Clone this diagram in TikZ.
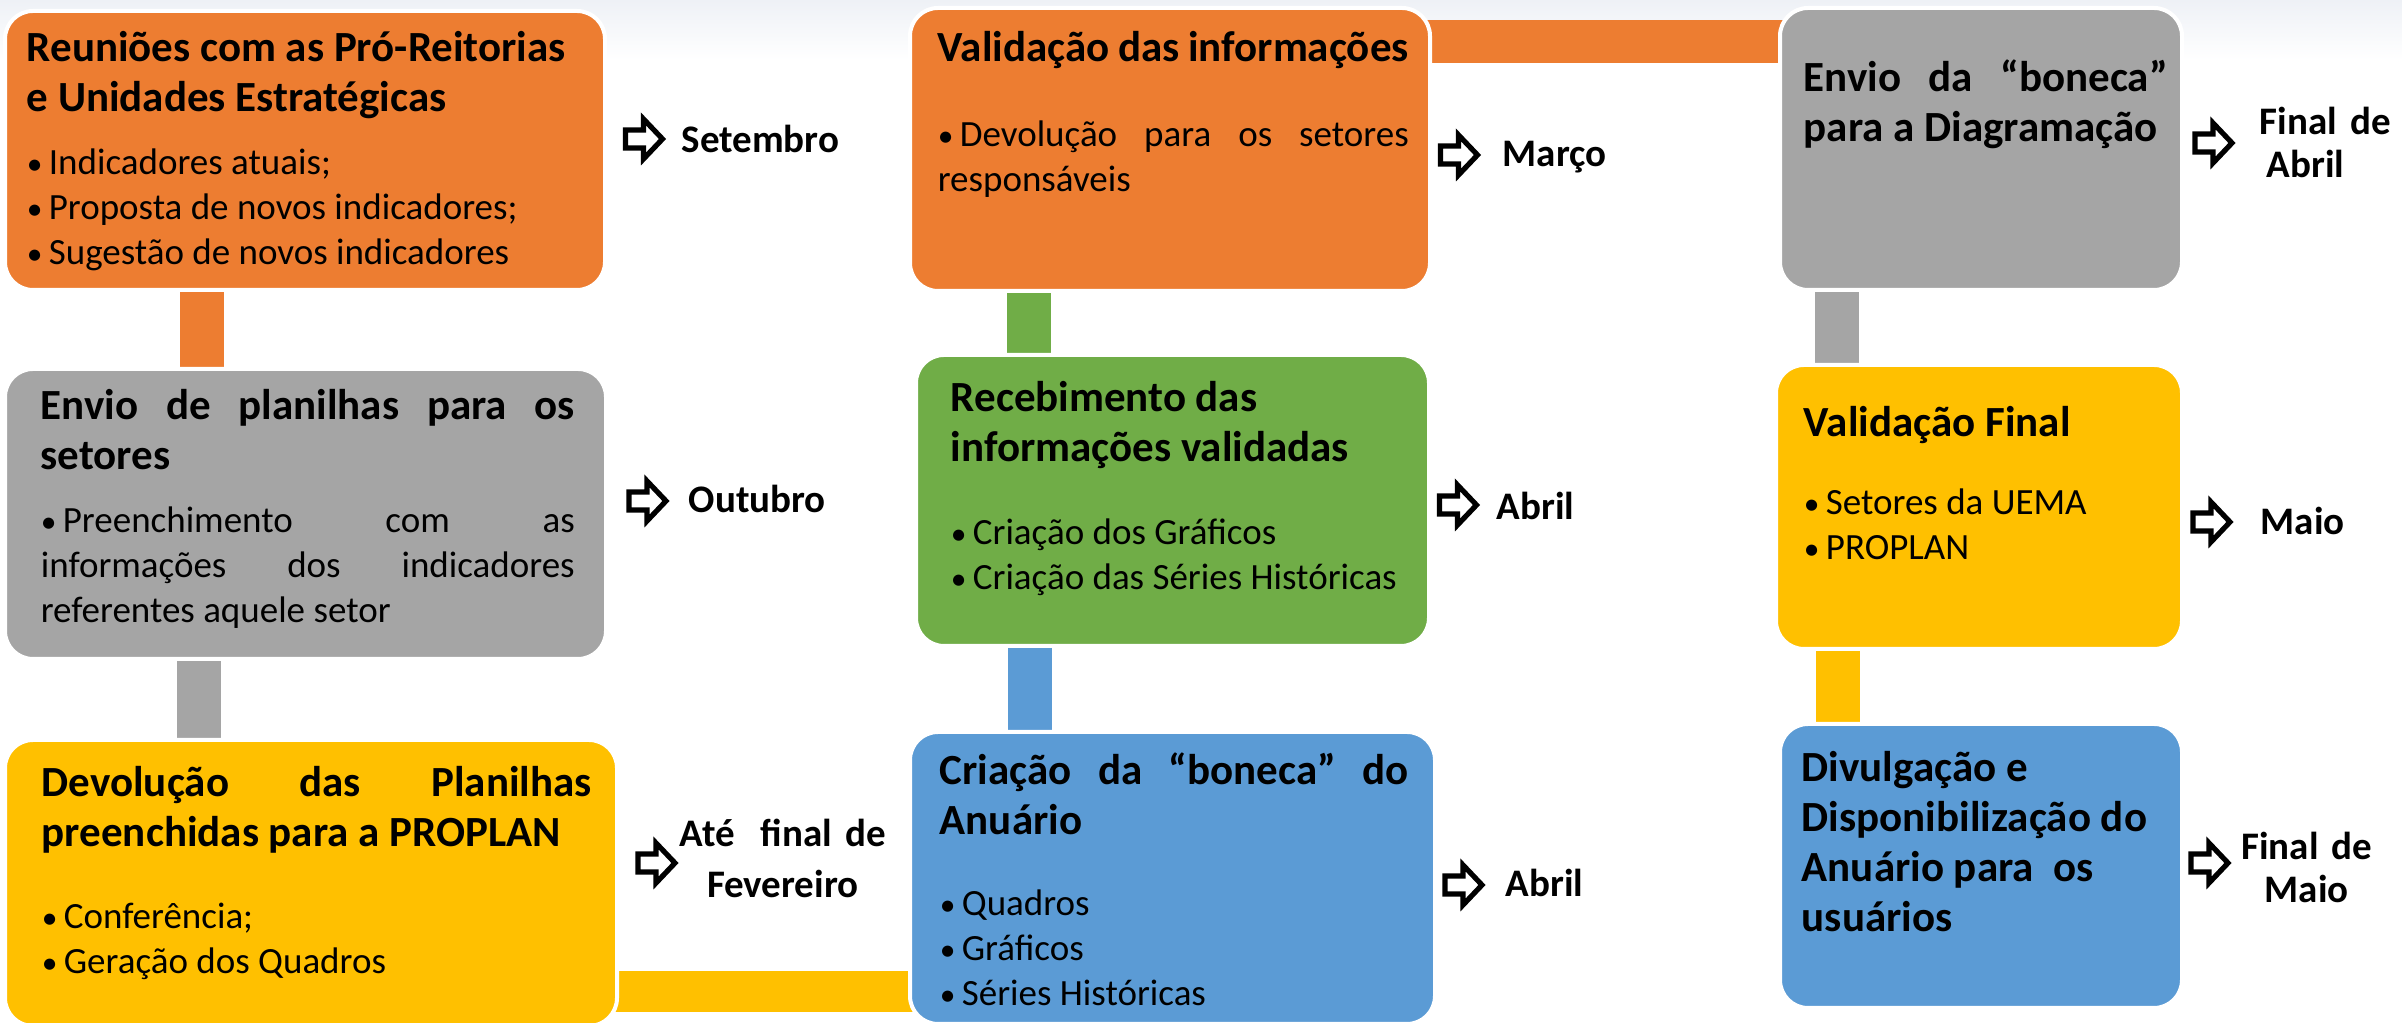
\documentclass[tikz,border=0pt]{standalone}
\usepackage{fontspec}
\setmainfont{Carlito}
\usepackage{xcolor}
\usepackage{tikz}
\usetikzlibrary{backgrounds,calc}
\definecolor{Laranja}{HTML}{ED7D31}
\definecolor{Cinza}{HTML}{A5A5A5}
\definecolor{Ouro}{HTML}{FFC000}
\definecolor{Verde}{HTML}{70AD47}
\definecolor{Azul}{HTML}{5B9BD5}
\definecolor{Nevoa}{HTML}{EEF1F6}

% espacos normais da fonte (align=left deixa os espacos rigidos)
\newcommand{\espaco}{\spaceskip=0pt\xspaceskip=0pt}
\newcommand{\fTitulo}{\fontsize{10.75}{12.5}\selectfont\bfseries\espaco}
\newcommand{\fCorpo}{\fontsize{9.25}{11.25}\selectfont\espaco}
\newcommand{\marca}{\raisebox{0.2pt}{\scalebox{0.85}{\textbullet}}\hspace{1.6pt}}
\newcommand{\cheia}[1]{\makebox[\hsize][s]{#1}}

\tikzset{
  etapa/.style={fill=#1, draw=white, line width=1pt, rounded corners=7pt, inner sep=0pt, outer sep=0pt},
  texto/.style={anchor=base west, inner sep=0pt, text width=#1, align=left},
  mes/.style={anchor=base west, inner sep=0pt, font=\fontsize{9.75}{12}\selectfont\bfseries\espaco},
  barra/.style={draw=#1, line width=11pt},
  seta/.pic={\draw[line width=1.3pt, fill=white] (-18,-9) -- (0,-9) -- (0,-20) -- (19,0) -- (0,20) -- (0,9) -- (-18,9) -- cycle;}
}

\begin{document}
\begin{tikzpicture}[x=0.25pt, y=-0.25pt]
  \useasboundingbox (0,0) rectangle (2402,1023);

  % caixas das etapas
  \node[etapa=Laranja, minimum width=150pt, minimum height=69.75pt] (b1) at (305,150.5) {};
  \node[etapa=Cinza, minimum width=150.25pt, minimum height=72.5pt] (b2) at (305.5,514) {};
  \node[etapa=Ouro, minimum width=153pt, minimum height=71.5pt] (b3) at (311,883) {};
  \node[etapa=Laranja, minimum width=130pt, minimum height=70.75pt] (b4) at (1170,149.5) {};
  \node[etapa=Verde, minimum width=128.25pt, minimum height=72.75pt] (b5) at (1172.5,500.5) {};
  \node[etapa=Azul, minimum width=131.25pt, minimum height=73pt] (b6) at (1172.5,878) {};
  \node[etapa=Cinza, minimum width=100.5pt, minimum height=70.5pt] (b7) at (1981,149) {};
  \node[etapa=Ouro, minimum width=101.5pt, minimum height=71pt] (b8) at (1979,507) {};
  \node[etapa=Azul, minimum width=100.5pt, minimum height=71pt] (b9) at (1981,866) {};

  % textos das etapas
  \node[texto=140pt] (t1) at ([shift={(21,51)}]b1.north west) {%
    {\fTitulo Reuniões com as Pró-Reitorias\\ e Unidades Estratégicas\par}\vspace{4.5pt}%
    {\fCorpo \marca Indicadores atuais;\\ \marca Proposta de novos indicadores;\\ \marca Sugestão de novos indicadores\par}};
  \node[texto=133.5pt] (t2) at ([shift={(35,51)}]b2.north west) {%
    {\fTitulo \cheia{Envio de planilhas para os}\\ setores\par}\vspace{4.5pt}%
    {\fCorpo \cheia{\marca Preenchimento com as}\\ \cheia{informações dos indicadores}\\ referentes aquele setor\par}};
  \node[texto=137.5pt] (t3) at ([shift={(36,57)}]b3.north west) {%
    {\fTitulo \cheia{Devolução das Planilhas}\\ preenchidas para a PROPLAN\par}\vspace{9.25pt}%
    {\fCorpo \marca Conferência;\\ \marca Geração dos Quadros\par}};
  \node[texto=117.75pt] (t4) at ([shift={(27,54)}]b4.north west) {%
    {\fTitulo Validação das informações\par}\vspace{10pt}%
    {\fCorpo \cheia{\marca Devolução para os setores}\\ responsáveis\par}};
  \node[texto=117.5pt] (t5) at ([shift={(34,57)}]b5.north west) {%
    {\fTitulo Recebimento das\\ informações validadas\par}\vspace{9.5pt}%
    {\fCorpo \marca Criação dos Gráficos\\ \marca Criação das Séries Históricas\par}};
  \node[texto=117.25pt] (t6) at ([shift={(29,53)}]b6.north west) {%
    {\fTitulo \cheia{Criação da “boneca” do}\\ Anuário\par}\vspace{9pt}%
    {\fCorpo \marca Quadros\\ \marca Gráficos\\ \marca Séries Históricas\par}};
  \node[texto=91pt] (t7) at ([shift={(23,84)}]b7.north west) {%
    {\fTitulo \cheia{Envio da “boneca”}\\ para a Diagramação\par}};
  \node[texto=90pt] (t8) at ([shift={(27,72)}]b8.north west) {%
    {\fTitulo Validação Final\par}\vspace{8.25pt}%
    {\fCorpo \marca Setores da UEMA\\ \marca PROPLAN\par}};
  \node[texto=92pt] (t9) at ([shift={(21,58)}]b9.north west) {%
    {\fTitulo Divulgação e\\ Disponibilização do\\ Anuário para\ \ os\\ usuários\par}};

  % prazos
  \node[mes] (m1) at (681,153) {Setembro};
  \node[mes] (m2) at (688,513) {Outubro};
  \node[mes, text width=60pt, align=center, font=\fontsize{9.75}{12.75}\selectfont\bfseries\espaco] (m3) at (662,847) {Até\ \ final de\\ Fevereiro};
  \node[mes] (m4) at (1502,167) {Março};
  \node[mes] (m5) at (1496,520) {Abril};
  \node[mes] (m6) at (1505,897) {Abril};
  \node[mes, text width=40pt, align=left, font=\fontsize{9.75}{10.75}\selectfont\bfseries\espaco] (m7) at (2259,135) {Final de\\ \hspace*{1.75pt}Abril};
  \node[mes] (m8) at (2260,535) {Maio};
  \node[mes, text width=40pt, align=center, font=\fontsize{9.75}{10.75}\selectfont\bfseries\espaco] (m9) at (2226,860) {Final de\\ Maio};

  \foreach \ax/\ay in {643.5/139, 647/501, 656/863, 1458.5/155, 1457.5/505, 1463/885, 2213/143, 2211/522, 2209/863}
    \pic at (\ax,\ay) {seta};

  % ligacoes e fundo
  \begin{scope}[on background layer]
    \shade[top color=Nevoa, bottom color=white] (0,0) rectangle (2402,60);
    \draw[barra=Laranja] (201.5,0 |- b1.center) -- (201.5,0 |- b2.center);
    \draw[barra=Cinza] (199,0 |- b2.center) -- (199,0 |- b3.center);
    \draw[barra=Ouro, line width=10.25pt] (b3.center |- 0,991.5) -- (b6.center |- 0,991.5);
    \draw[barra=Verde] (1028.5,0 |- b4.center) -- (1028.5,0 |- b5.center);
    \draw[barra=Azul] (1030,0 |- b5.center) -- (1030,0 |- b6.center);
    \draw[barra=Laranja, line width=10.75pt] (b4.center |- 0,41.5) -- (b7.center |- 0,41.5);
    \draw[barra=Cinza] (1837,0 |- b7.center) -- (1837,0 |- b8.center);
    \draw[barra=Ouro] (1837.5,0 |- b8.center) -- (1837.5,0 |- b9.center);
  \end{scope}
\end{tikzpicture}
\end{document}
